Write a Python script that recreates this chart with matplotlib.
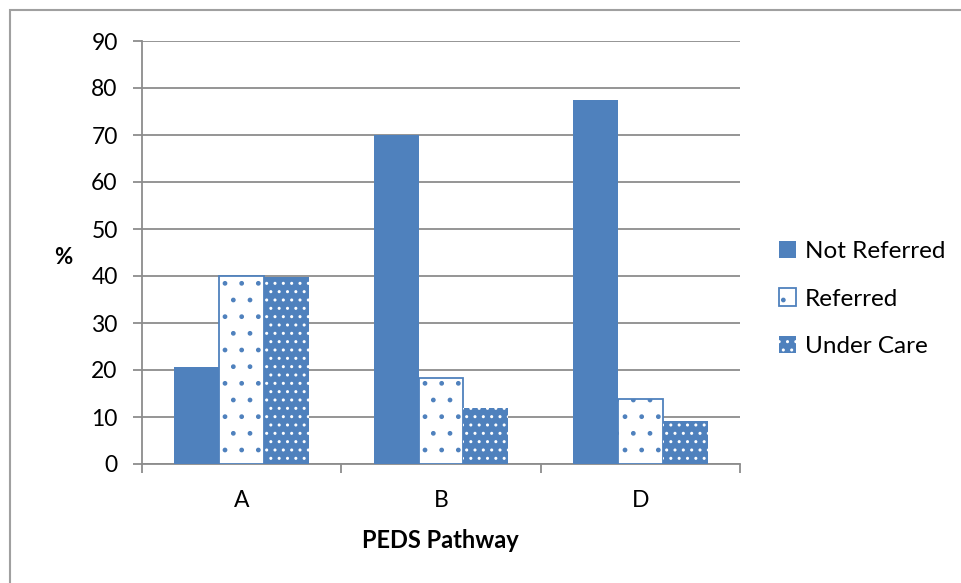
import numpy as np
import matplotlib
matplotlib.use("Agg")
import matplotlib.pyplot as plt
from matplotlib.patches import Rectangle

plt.rcParams['font.family'] = ['Lato', 'DejaVu Sans']
plt.rcParams['hatch.linewidth'] = 1.0

# data
categories = ['A', 'B', 'D']
not_referred = [20.7, 70.0, 77.5]
referred = [40.0, 18.3, 13.8]
under_care = [39.7, 12.0, 9.2]
yticks = [0, 10, 20, 30, 40, 50, 60, 70, 80, 90]

blue = '#4F81BD'
grey = '#8C8C8C'

fig = plt.figure(figsize=(9.62, 5.83), dpi=100)
ax = fig.add_axes([142/962, 1 - 464/583, 598/962, 423/583])

x = np.arange(len(categories))
w = 0.225

ax.bar(x - w, not_referred, w, color=blue, linewidth=0, label='Not Referred', zorder=3)
ax.bar(x, referred, w, facecolor='white', edgecolor=blue, hatch='.', linewidth=1.3,
       label='Referred', zorder=3)
ax.bar(x + w, under_care, w, facecolor=blue, edgecolor='white', hatch='..', linewidth=0,
       label='Under Care', zorder=3)

ax.set_xlim(-0.5, len(categories) - 0.5)
ax.set_ylim(0, 90)
ax.set_yticks(yticks)
ax.yaxis.grid(True, color=grey, linewidth=1.3, zorder=0)
ax.set_axisbelow(True)

ax.set_xticks(x)
ax.set_xticklabels(categories)
ax.set_xticks(np.arange(-0.5, len(categories), 1.0), minor=True)
ax.tick_params(axis='x', which='major', length=0, pad=19, labelsize=16.5)
ax.tick_params(axis='x', which='minor', length=6.5, width=1.3, color=grey, direction='out')
ax.tick_params(axis='y', length=6.5, width=1.3, color=grey, labelsize=16.5, pad=11)

for s in ['top', 'right']:
    ax.spines[s].set_visible(False)
for s in ['left', 'bottom']:
    ax.spines[s].set_color(grey)
    ax.spines[s].set_linewidth(1.3)

fig.text(63/962, 1 - 257/583, '%', fontsize=16, fontweight='bold', ha='center', va='center')
fig.text(440/962, 1 - 540/583, 'PEDS Pathway', fontsize=17, fontweight='bold', ha='center', va='center')

leg = ax.legend(loc='center left', bbox_to_anchor=(767/962, 1 - 299/583), bbox_transform=fig.transFigure,
                frameon=False, fontsize=17.5, handlelength=0.7, handleheight=0.7,
                handletextpad=0.35, labelspacing=1.07, borderpad=0)

# outer chart frame
fig.patches.append(Rectangle((10/962, -0.1), 1.2, 1 - 10/583 + 0.1, transform=fig.transFigure,
                             fill=False, edgecolor='#A0A0A0', linewidth=1.5))

fig.savefig('out.png', dpi=100)
